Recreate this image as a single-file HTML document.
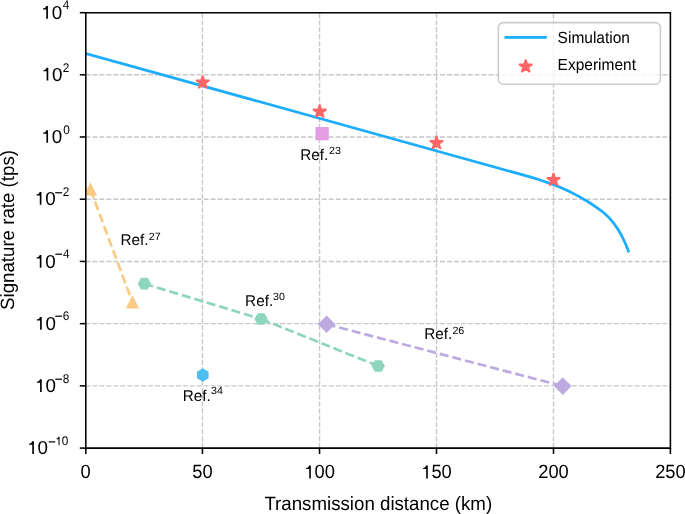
<!DOCTYPE html>
<html><head><meta charset="utf-8"><style>html,body{margin:0;padding:0;background:#fff;}svg{display:block;} .t{will-change:transform;} text{text-rendering:geometricPrecision;}</style></head>
<body>
<svg class="t" width="685" height="514" viewBox="0 0 685 514" font-family='"Liberation Sans", sans-serif' fill="#000">
<rect width="685" height="514" fill="#fff"/>
<defs><clipPath id="ax"><rect x="86" y="12.55" width="584.4" height="435.54"/></clipPath></defs>
<g stroke="#c8c8c8" stroke-width="1.4" stroke-dasharray="4.98 1.95" fill="none"><path d="M202.45,448.09 L202.45,12.55"/><path d="M319.55,448.09 L319.55,12.55"/><path d="M436.50,448.09 L436.50,12.55"/><path d="M553.50,448.09 L553.50,12.55"/><path d="M86.0,74.77 L670.4,74.77" stroke-dashoffset="0.5" stroke-dasharray="5.0 1.95"/><path d="M86.0,136.99 L670.4,136.99" stroke-dashoffset="0.5" stroke-dasharray="5.0 1.95"/><path d="M86.0,199.21 L670.4,199.21" stroke-dashoffset="0.5" stroke-dasharray="5.0 1.95"/><path d="M86.0,261.43 L670.4,261.43" stroke-dashoffset="0.5" stroke-dasharray="5.0 1.95"/><path d="M86.0,323.65 L670.4,323.65" stroke-dashoffset="0.5" stroke-dasharray="5.0 1.95"/><path d="M86.0,385.87 L670.4,385.87" stroke-dashoffset="0.5" stroke-dasharray="5.0 1.95"/></g>
<g clip-path="url(#ax)">
<path d="M86.00,53.50 L530.00,176.90 L535.00,178.40 L540.00,180.00 L545.00,181.70 L550.00,183.40 L555.00,185.30 L560.00,187.20 L565.00,189.44 L570.00,191.76 L575.00,194.38 L580.00,197.08 L585.00,199.95 L590.00,202.99 L595.00,206.30 L600.00,209.88 L602.00,211.36 L604.00,213.04 L606.00,214.82 L608.00,216.69 L610.00,218.85 L612.00,221.11 L614.00,223.57 L616.00,226.43 L618.00,229.38 L620.00,232.73 L622.00,236.48 L624.00,240.53 L626.00,244.97 L628.00,249.92 L628.75,252.40" fill="none" stroke="#1cadfe" stroke-width="2.75" stroke-linejoin="round"/>
<path d="M90.4,189.4 L132.5,302.3" stroke="#f8cb86" stroke-dasharray="9.07 3.93" stroke-width="2.7" fill="none"/>
<path d="M90.40,184.10 L85.10,194.70 L95.70,194.70ZM132.50,297.00 L127.20,307.60 L137.80,307.60Z" fill="#f8cb86" stroke="#f8cb86" stroke-width="1.7" stroke-linejoin="miter"/>
<path d="M144.4,283.7 L261.1,319.0" stroke="#8ed5bd" stroke-dasharray="9.07 3.93" stroke-width="2.7" fill="none"/>
<path d="M261.1,319.0 L378.2,366.0" stroke="#8ed5bd" stroke-dasharray="9.07 3.93" stroke-width="2.7" fill="none"/>
<path d="M150.15,283.70 L147.28,288.68 L141.53,288.68 L138.65,283.70 L141.53,278.72 L147.28,278.72ZM266.85,319.00 L263.98,323.98 L258.23,323.98 L255.35,319.00 L258.23,314.02 L263.98,314.02ZM383.95,366.00 L381.07,370.98 L375.32,370.98 L372.45,366.00 L375.32,361.02 L381.07,361.02Z" fill="#8ed5bd" stroke="#8ed5bd" stroke-width="1.7"/>
<path d="M326.6,324.2 L562.8,386.1" stroke="#bdaae0" stroke-dasharray="9.07 3.93" stroke-width="2.7" fill="none"/>
<path d="M326.60,316.60 L334.20,324.20 L326.60,331.80 L319.00,324.20ZM562.80,378.50 L570.40,386.10 L562.80,393.70 L555.20,386.10Z" fill="#bdaae0" stroke="#bdaae0" stroke-width="1.7"/>
<path d="M202.80,380.72 L197.85,377.86 L197.85,372.14 L202.80,369.28 L207.75,372.14 L207.75,377.86Z" fill="#4ebeee" stroke="#4ebeee" stroke-width="1.7"/>
<rect x="316.3" y="127.89999999999999" width="11.6" height="11.6" fill="#e29de3" stroke="#e29de3" stroke-width="1.7"/>
<path d="M202.70,75.50 L204.27,80.34 L209.36,80.34 L205.24,83.33 L206.81,88.16 L202.70,85.17 L198.59,88.16 L200.16,83.33 L196.04,80.34 L201.13,80.34Z" fill="#ff6666" stroke="#ff6666" stroke-width="1.7" stroke-linejoin="bevel"/>
<path d="M319.70,104.60 L321.27,109.44 L326.36,109.44 L322.24,112.43 L323.81,117.26 L319.70,114.27 L315.59,117.26 L317.16,112.43 L313.04,109.44 L318.13,109.44Z" fill="#ff6666" stroke="#ff6666" stroke-width="1.7" stroke-linejoin="bevel"/>
<path d="M436.50,136.00 L438.07,140.84 L443.16,140.84 L439.04,143.83 L440.61,148.66 L436.50,145.67 L432.39,148.66 L433.96,143.83 L429.84,140.84 L434.93,140.84Z" fill="#ff6666" stroke="#ff6666" stroke-width="1.7" stroke-linejoin="bevel"/>
<path d="M553.50,172.90 L555.07,177.74 L560.16,177.74 L556.04,180.73 L557.61,185.56 L553.50,182.57 L549.39,185.56 L550.96,180.73 L546.84,177.74 L551.93,177.74Z" fill="#ff6666" stroke="#ff6666" stroke-width="1.7" stroke-linejoin="bevel"/>
</g>
<rect x="498.3" y="22.6" width="162.1" height="61.6" rx="5" ry="5" fill="#fff" fill-opacity="0.8" stroke="#cccccc" stroke-width="1.6"/>
<line x1="504.5" y1="37.35" x2="546.8" y2="37.35" stroke="#1cadfe" stroke-width="2.75"/>
<path d="M525.70,59.40 L527.27,64.24 L532.36,64.24 L528.24,67.23 L529.81,72.06 L525.70,69.07 L521.59,72.06 L523.16,67.23 L519.04,64.24 L524.13,64.24Z" fill="#ff6666" stroke="#ff6666" stroke-width="1.7" stroke-linejoin="bevel"/>
<text transform="translate(557.60,42.90) scale(1,1.04)" font-size="15.5">Simulation</text>
<text transform="translate(557.60,69.80) scale(1,1.04)" font-size="15.5">Experiment</text>
<g stroke="#000" stroke-width="1.55"><path d="M85.8,448.1 L85.8,12.7 L670.4,12.7 L670.4,448.1 Z" fill="none" stroke-linejoin="miter"/><line x1="79.8" y1="12.70" x2="85.8" y2="12.70"/><line x1="79.8" y1="74.77" x2="85.8" y2="74.77"/><line x1="79.8" y1="136.99" x2="85.8" y2="136.99"/><line x1="79.8" y1="199.21" x2="85.8" y2="199.21"/><line x1="79.8" y1="261.43" x2="85.8" y2="261.43"/><line x1="79.8" y1="323.65" x2="85.8" y2="323.65"/><line x1="79.8" y1="385.87" x2="85.8" y2="385.87"/><line x1="79.8" y1="448.09" x2="85.8" y2="448.09"/><line x1="85.80" y1="448.1" x2="85.80" y2="454"/><line x1="202.45" y1="448.1" x2="202.45" y2="454"/><line x1="319.55" y1="448.1" x2="319.55" y2="454"/><line x1="436.50" y1="448.1" x2="436.50" y2="454"/><line x1="553.50" y1="448.1" x2="553.50" y2="454"/><line x1="670.40" y1="448.1" x2="670.40" y2="454"/></g>
<path d="M47.94,6.00 L47.94,18.65 L46.29,18.65 L46.29,9.48 L43.10,9.48 L43.10,8.32 C44.79,8.23 45.82,7.62 46.14,6.00Z" fill="#000"/><text transform="translate(51.63,18.65) scale(1,1.0)" font-size="18.75">0</text>
<text transform="translate(62.70,8.70) scale(1,1.063)" font-size="11.8">4</text>
<path d="M48.29,67.85 L48.29,80.50 L46.64,80.50 L46.64,71.33 L43.45,71.33 L43.45,70.17 C45.14,70.08 46.17,69.47 46.49,67.85Z" fill="#000"/><text transform="translate(51.98,80.50) scale(1,1.0)" font-size="18.75">0</text>
<text transform="translate(62.69,71.70) scale(1,1.063)" font-size="11.8">2</text>
<path d="M48.04,130.15 L48.04,142.80 L46.39,142.80 L46.39,133.63 L43.20,133.63 L43.20,132.47 C44.89,132.38 45.92,131.77 46.24,130.15Z" fill="#000"/><text transform="translate(51.73,142.80) scale(1,1.0)" font-size="18.75">0</text>
<text transform="translate(63.16,133.60) scale(1,1.063)" font-size="11.8">0</text>
<path d="M41.44,192.05 L41.44,204.70 L39.79,204.70 L39.79,195.53 L36.60,195.53 L36.60,194.37 C38.29,194.28 39.32,193.67 39.64,192.05Z" fill="#000"/><text transform="translate(45.13,204.70) scale(1,1.0)" font-size="18.75">0</text>
<rect x="55.20" y="192.15" width="6.90" height="1.2"/>
<text transform="translate(62.79,195.80) scale(1,1.063)" font-size="11.8">2</text>
<path d="M41.44,255.05 L41.44,267.70 L39.79,267.70 L39.79,258.53 L36.60,258.53 L36.60,257.37 C38.29,257.28 39.32,256.67 39.64,255.05Z" fill="#000"/><text transform="translate(45.13,267.70) scale(1,1.0)" font-size="18.75">0</text>
<rect x="55.30" y="253.60" width="6.80" height="1.2"/>
<text transform="translate(62.91,257.80) scale(1,1.063)" font-size="11.8">4</text>
<path d="M41.74,317.05 L41.74,329.70 L40.09,329.70 L40.09,320.53 L36.90,320.53 L36.90,319.37 C38.59,319.28 39.62,318.67 39.94,317.05Z" fill="#000"/><text transform="translate(45.43,329.70) scale(1,1.0)" font-size="18.75">0</text>
<rect x="55.30" y="315.60" width="6.80" height="1.2"/>
<text transform="translate(62.75,319.90) scale(1,1.063)" font-size="11.8">6</text>
<path d="M41.74,379.35 L41.74,392.00 L40.09,392.00 L40.09,382.83 L36.90,382.83 L36.90,381.67 C38.59,381.58 39.62,380.97 39.94,379.35Z" fill="#000"/><text transform="translate(45.43,392.00) scale(1,1.0)" font-size="18.75">0</text>
<rect x="55.30" y="378.60" width="6.80" height="1.2"/>
<text transform="translate(62.75,382.50) scale(1,1.063)" font-size="11.8">8</text>
<path d="M33.91,441.35 L33.91,454.00 L32.26,454.00 L32.26,444.83 L29.07,444.83 L29.07,443.67 C30.76,443.58 31.79,442.97 32.11,441.35Z" fill="#000"/><text transform="translate(37.60,454.00) scale(1,1.0)" font-size="18.75">0</text>
<rect x="48.65" y="441.30" width="6.55" height="1.2"/>
<path d="M59.54,436.84 L59.54,445.30 L58.51,445.30 L58.51,439.17 L56.50,439.17 L56.50,438.39 C57.56,438.33 58.21,437.92 58.41,436.84Z" fill="#000"/><text transform="translate(61.87,445.30) scale(1,1.063)" font-size="11.8">0</text>
<text transform="translate(80.41,478.45) scale(1,1.045)" font-size="18.3">0</text>
<text transform="translate(192.28,478.45) scale(1,1.045)" font-size="18.3">50</text>
<path d="M310.86,465.55 L310.86,478.45 L309.25,478.45 L309.25,469.10 L306.14,469.10 L306.14,467.91 C307.78,467.82 308.79,467.20 309.10,465.55Z" fill="#000"/><text transform="translate(314.46,478.45) scale(1,1.045)" font-size="18.3">00</text>
<path d="M427.81,465.55 L427.81,478.45 L426.20,478.45 L426.20,469.10 L423.09,469.10 L423.09,467.91 C424.73,467.82 425.74,467.20 426.05,465.55Z" fill="#000"/><text transform="translate(431.41,478.45) scale(1,1.045)" font-size="18.3">50</text>
<text transform="translate(538.24,478.45) scale(1,1.045)" font-size="18.3">200</text>
<text transform="translate(655.14,478.45) scale(1,1.045)" font-size="18.3">250</text>
<text transform="translate(378.25,510.1) scale(1,1.025)" text-anchor="middle" font-size="18.7">Transmission distance (km)</text>
<text transform="translate(13.7,230.0) rotate(-90) scale(1,1.025)" text-anchor="middle" font-size="18.7">Signature rate (tps)</text>
<text transform="translate(300.25,159.90) scale(1,1.02)" font-size="15.3">Ref.</text><text transform="translate(329.12,154.33) scale(1,0.975)" font-size="10.7">23</text>
<text transform="translate(120.55,245.20) scale(1,1.02)" font-size="15.3">Ref.</text><text transform="translate(148.72,240.03) scale(1,0.975)" font-size="10.7">27</text>
<text transform="translate(245.10,305.70) scale(1,1.02)" font-size="15.3">Ref.</text><text transform="translate(272.94,299.73) scale(1,0.975)" font-size="10.7">30</text>
<text transform="translate(424.15,339.30) scale(1,1.02)" font-size="15.3">Ref.</text><text transform="translate(452.42,333.93) scale(1,0.975)" font-size="10.7">26</text>
<text transform="translate(182.65,400.50) scale(1,1.02)" font-size="15.3">Ref.</text><text transform="translate(211.04,394.33) scale(1,0.975)" font-size="10.7">34</text>
</svg>
</body></html>
